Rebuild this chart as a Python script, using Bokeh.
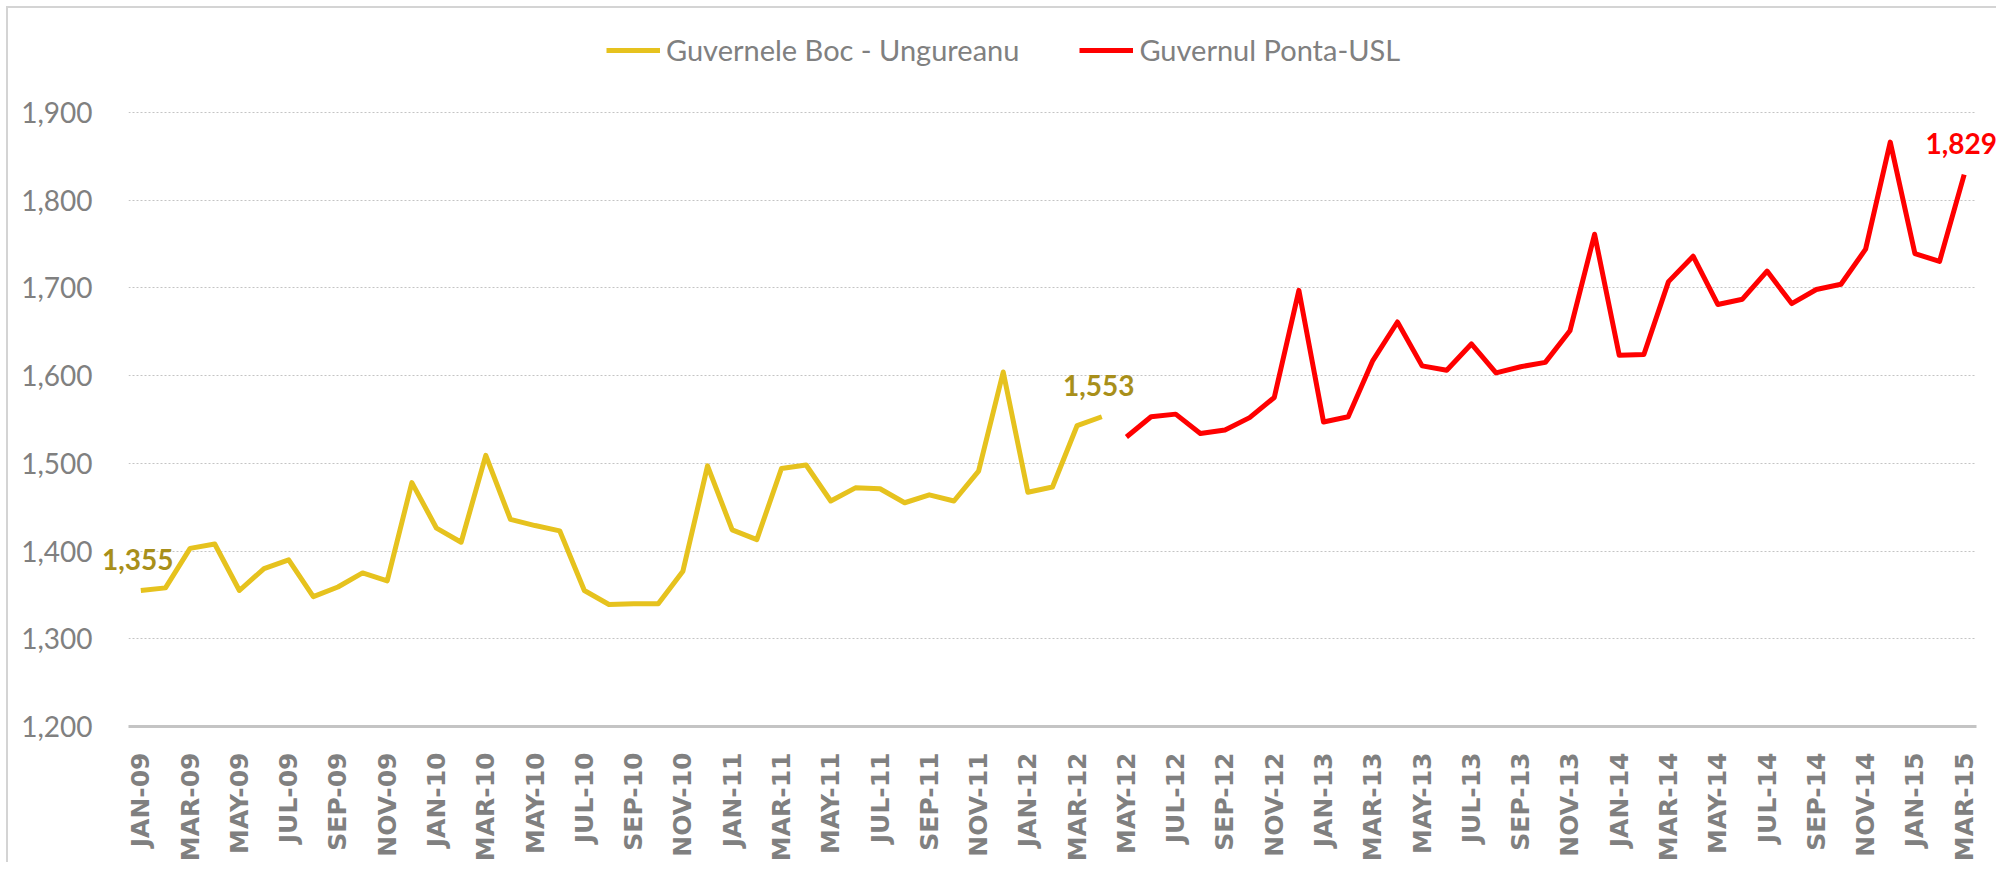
from bokeh.plotting import figure
from bokeh.models import (ColumnDataSource, FixedTicker, Legend, LegendItem,
                          NumeralTickFormatter, Range1d)
from bokeh.core.properties import value
from bokeh.embed import file_html
from bokeh.resources import INLINE
import math

# ---- data ----
months = []
for yr in ["09", "10", "11", "12", "13", "14", "15"]:
    for m in ["JAN", "FEB", "MAR", "APR", "MAY", "JUN", "JUL", "AUG", "SEP", "OCT", "NOV", "DEC"]:
        months.append(f"{m}-{yr}")
months = months[:75]  # JAN-09 .. MAR-15

boc_values = [1355, 1358, 1403, 1408, 1355, 1380, 1390, 1348, 1359, 1375, 1366, 1478,
              1426, 1410, 1509, 1436, 1429, 1423, 1355, 1339, 1340, 1340, 1377, 1497,
              1424, 1413, 1494, 1498, 1457, 1472, 1471, 1455, 1464, 1457, 1491, 1604,
              1467, 1473, 1543, 1553]
ponta_values = [1530, 1553, 1556, 1534, 1538, 1552, 1575, 1697,
                1547, 1553, 1617, 1661, 1611, 1606, 1636, 1603, 1610, 1615, 1651, 1761,
                1623, 1624, 1707, 1736, 1681, 1687, 1719, 1682, 1698, 1704, 1744, 1866,
                1739, 1730, 1829]
y_ticks = [1200, 1300, 1400, 1500, 1600, 1700, 1800, 1900]
series_names = ["Guvernele Boc - Ungureanu", "Guvernul Ponta-USL"]

boc_x = list(range(len(boc_values)))
ponta_x = list(range(len(boc_values), len(boc_values) + len(ponta_values)))

YELLOW = "#E6C21E"
OLIVE = "#A88F1A"
RED = "#FF0000"
GRAY = "#808080"
FONT = "Lato"

p = figure(width=1990, height=856, output_backend="svg", toolbar_location=None,
           x_range=Range1d(-0.5, len(months) - 0.5), y_range=Range1d(1200, 2016),
           min_border_left=120, min_border_right=22, min_border_top=2,
           min_border_bottom=138)
p.styles = {"margin-left": "6px", "margin-top": "6px",
            "border-left": "2px solid #D4D4D4", "border-top": "2px solid #D4D4D4"}
p.outline_line_color = None
p.background_fill_color = "white"
p.border_fill_color = "white"

# grid
p.xgrid.grid_line_color = None
p.ygrid.ticker = FixedTicker(ticks=y_ticks[1:])
p.ygrid.grid_line_color = "#C4C4C4"
p.ygrid.grid_line_dash = "2 2"
p.ygrid.grid_line_width = 1

# y axis
p.yaxis.ticker = FixedTicker(ticks=y_ticks)
p.yaxis.formatter = NumeralTickFormatter(format="0,0")
p.yaxis.axis_line_color = None
p.yaxis.major_tick_line_color = None
p.yaxis.minor_tick_line_color = None
p.yaxis.major_label_text_font = FONT
p.yaxis.major_label_text_font_size = "28px"
p.yaxis.major_label_text_color = GRAY
p.yaxis.major_label_standoff = 30

# x axis
x_ticks = list(range(0, len(months), 2))
p.xaxis.ticker = FixedTicker(ticks=x_ticks)
p.xaxis.major_label_overrides = {i: months[i] for i in x_ticks}
p.xaxis.major_label_orientation = math.pi / 2
p.xaxis.major_label_text_font = "DejaVu Sans"
p.xaxis.major_label_text_font_style = "bold"
p.xaxis.major_label_text_font_size = "25px"
p.xaxis.major_label_text_color = GRAY
p.xaxis.major_label_standoff = 20
p.xaxis.axis_line_color = "#C4C4C4"
p.xaxis.axis_line_width = 3
p.xaxis.major_tick_line_color = None
p.xaxis.minor_tick_line_color = None

# lines
r1 = p.line(boc_x, boc_values, line_color=YELLOW, line_width=5, line_join="round")
r2 = p.line(ponta_x, ponta_values, line_color=RED, line_width=5, line_join="round")

# data labels
lab_src = ColumnDataSource(dict(
    x=[boc_x[0], boc_x[-1], ponta_x[-1]],
    y=[boc_values[0], boc_values[-1], ponta_values[-1]],
    t=[f"{v:,}" for v in [boc_values[0], boc_values[-1], ponta_values[-1]]],
    c=[OLIVE, OLIVE, RED],
))
p.text(x="x", y="y", text="t", text_color="c", source=lab_src,
       text_font=value(FONT), text_font_style="bold", text_font_size="28px",
       text_align="center", text_baseline="middle", y_offset=-31, x_offset=-3,
       level="overlay")

legend = Legend(items=[LegendItem(label=series_names[0], renderers=[r1]),
                       LegendItem(label=series_names[1], renderers=[r2])],
                orientation="horizontal", location=(478, 659))
legend.border_line_color = None
legend.background_fill_alpha = 0
legend.padding = 0
legend.margin = 0
legend.spacing = 60
legend.glyph_width = 54
legend.glyph_height = 30
legend.label_height = 30
legend.label_standoff = 6
legend.label_text_font = FONT
legend.label_text_font_size = "29px"
legend.label_text_color = GRAY
p.add_layout(legend, "center")

open("out.html", "w").write(file_html(p, INLINE))
